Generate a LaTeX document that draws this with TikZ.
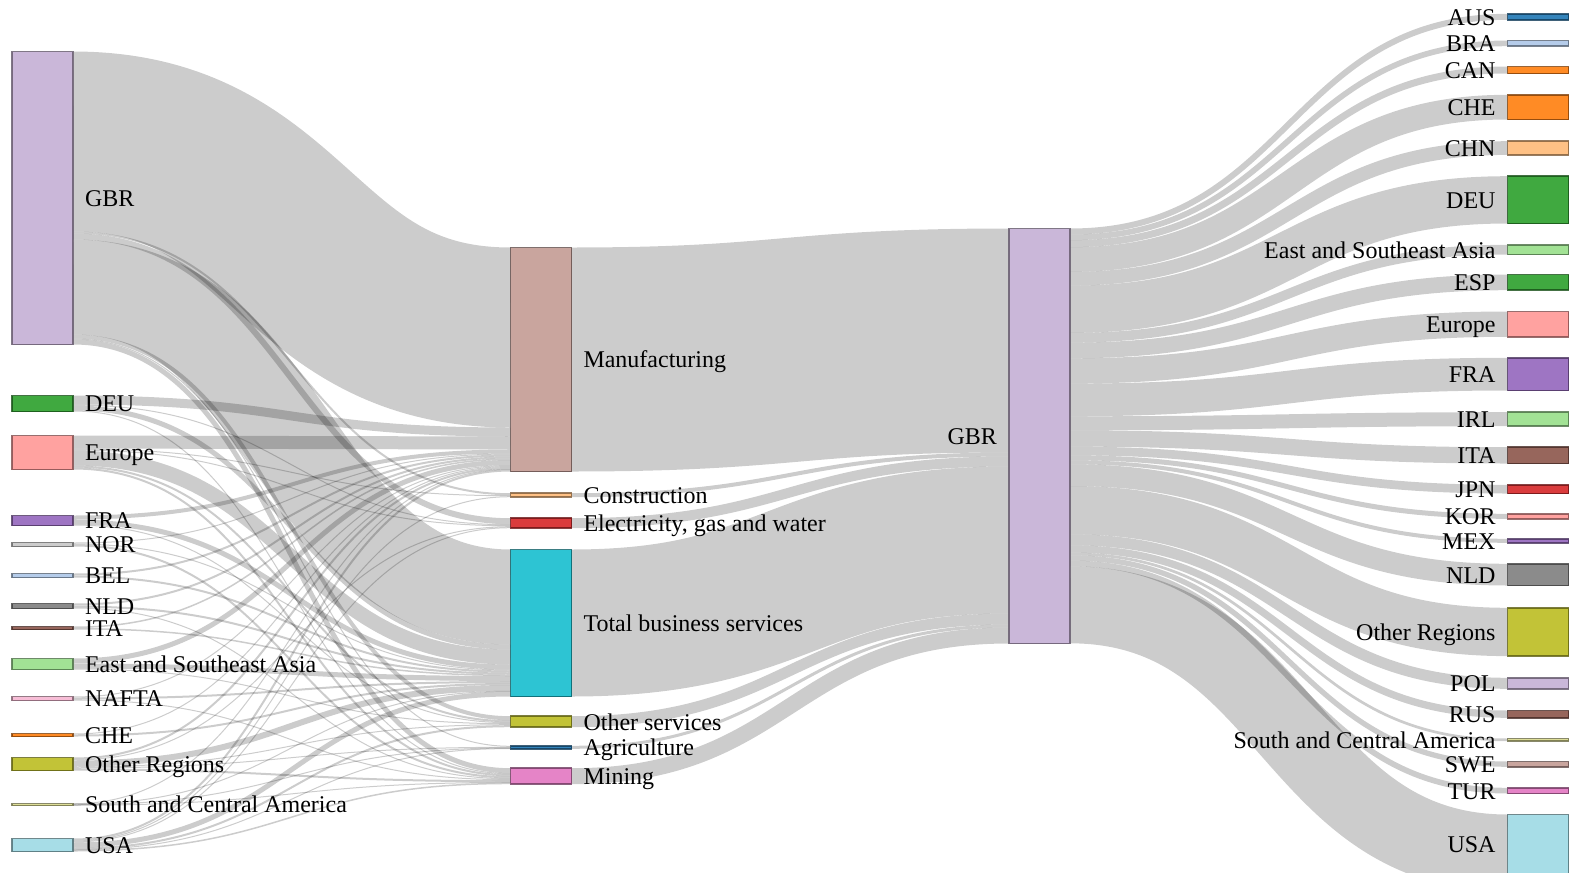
\documentclass[tikz,border=0pt]{standalone}
\usepackage{fontspec}
\setmainfont{Liberation Serif}
\usetikzlibrary{calc}

% category-20 palette
\definecolor{tabBlue}{HTML}{1F77B4}
\definecolor{tabBlueL}{HTML}{AEC7E8}
\definecolor{tabOrange}{HTML}{FF7F0E}
\definecolor{tabOrangeL}{HTML}{FFBB78}
\definecolor{tabGreen}{HTML}{2CA02C}
\definecolor{tabGreenL}{HTML}{98DF8A}
\definecolor{tabRed}{HTML}{D62728}
\definecolor{tabRedL}{HTML}{FF9896}
\definecolor{tabPurple}{HTML}{9467BD}
\definecolor{tabPurpleL}{HTML}{C5B0D5}
\definecolor{tabBrown}{HTML}{8C564B}
\definecolor{tabBrownL}{HTML}{C49C94}
\definecolor{tabPink}{HTML}{E377C2}
\definecolor{tabPinkL}{HTML}{F7B6D2}
\definecolor{tabGrey}{HTML}{7F7F7F}
\definecolor{tabGreyL}{HTML}{C7C7C7}
\definecolor{tabOlive}{HTML}{BCBD22}
\definecolor{tabOliveL}{HTML}{DBDB8D}
\definecolor{tabCyan}{HTML}{17BECF}
\definecolor{tabCyanL}{HTML}{9EDAE5}

\pgfdeclarelayer{back}
\pgfdeclarelayer{links}
\pgfsetlayers{back,links,main}

\tikzset{
  skbar/.style={draw=#1!49!black, draw opacity=0.8, fill=#1, fill opacity=0.9, line width=1.6,
    minimum width=61, minimum height=1, inner sep=0, outer sep=0, anchor=north west},
  flowpath/.style={draw=black, draw opacity=0.2},
  sklabel/.style={font=\fontsize{24}{28}\selectfont, inner sep=0, outer sep=0, text=black},
}

% a sankey bar: name, left x, top y, height, colour
\newcommand\sknode[5]{%
  \node[skbar=#5, minimum height=#4] (#1) at (#2,#3) {};
  \expandafter\xdef\csname so@#1\endcsname{0}%
  \expandafter\xdef\csname ti@#1\endcsname{0}%
}
% a flow band between two bars, stacked at both ends: source, target, width
\newcommand\skflow[3]{%
  \edef\fso{\csname so@#1\endcsname}%
  \edef\fti{\csname ti@#2\endcsname}%
  \pgfmathsetmacro\fw{max(1,#3)}%
  \pgfmathsetmacro\fa{\fso+#3/2}%
  \pgfmathsetmacro\fb{\fti+#3/2}%
  \begin{pgfonlayer}{links}
    \draw[flowpath, line width=\fw] ($(#1.north east)+(0,\fa)$)
      .. controls +(218.75,0) and +(-218.75,0) .. ($(#2.north west)+(0,\fb)$);
  \end{pgfonlayer}
  \pgfmathsetmacro\fso{\fso+#3}\expandafter\xdef\csname so@#1\endcsname{\fso}%
  \pgfmathsetmacro\fti{\fti+#3}\expandafter\xdef\csname ti@#2\endcsname{\fti}%
}
% labels right / left of a bar
\newcommand\labR[2]{\node[sklabel, anchor=base west] (#1-lbl) at ($(#1.east)+(12,8.4)$) {#2};}
\newcommand\labL[2]{\node[sklabel, anchor=base east] (#1-lbl) at ($(#1.west)+(-12,8.4)$) {#2};}

\begin{document}
\begin{tikzpicture}[x=1pt,y=-1pt]
\useasboundingbox (0,0) rectangle (1572,873);
\clip (0,0) rectangle (1572,873);
\begin{pgfonlayer}{back}
  \fill[white] (0,0) rectangle (1572,873);
\end{pgfonlayer}

% ---- source countries
\sknode{L-GBR}{12}{51.5}{293}{tabPurpleL}
\sknode{L-DEU}{12}{395.5}{16}{tabGreen}
\sknode{L-EUR}{12}{435.5}{34}{tabRedL}
\sknode{L-FRA}{12}{515.5}{10}{tabPurple}
\sknode{L-NOR}{12}{542.5}{4}{tabGreyL}
\sknode{L-BEL}{12}{573.5}{4}{tabBlueL}
\sknode{L-NLD}{12}{603.5}{5}{tabGrey}
\sknode{L-ITA}{12}{626.5}{3}{tabBrown}
\sknode{L-EAS}{12}{658.5}{11}{tabGreenL}
\sknode{L-NAF}{12}{696.5}{4}{tabPinkL}
\sknode{L-CHE}{12}{733.5}{3}{tabOrange}
\sknode{L-OTH}{12}{757.5}{13}{tabOlive}
\sknode{L-SCA}{12}{803.5}{2}{tabOliveL}
\sknode{L-USA}{12}{838.5}{13}{tabCyanL}

% ---- sectors
\sknode{M-MAN}{510.5}{247.5}{224}{tabBrownL}
\sknode{M-CON}{510.5}{493.2}{4}{tabOrangeL}
\sknode{M-ELE}{510.5}{518.2}{10}{tabRed}
\sknode{M-TBS}{510.5}{549.5}{147}{tabCyan}
\sknode{M-OTS}{510.5}{716.2}{11}{tabOlive}
\sknode{M-AGR}{510.5}{745.8}{3}{tabBlue}
\sknode{M-MIN}{510.5}{768.2}{16}{tabPink}

% ---- exporter
\sknode{G-GBR}{1009}{228.5}{415}{tabPurpleL}

% ---- destinations
\sknode{R-AUS}{1507.5}{13.8}{6}{tabBlue}
\sknode{R-BRA}{1507.5}{40.5}{5.7}{tabBlueL}
\sknode{R-CAN}{1507.5}{66.5}{7}{tabOrange}
\sknode{R-CHE}{1507.5}{94.8}{24.7}{tabOrange}
\sknode{R-CHN}{1507.5}{141.2}{13.7}{tabOrangeL}
\sknode{R-DEU}{1507.5}{176.2}{47.3}{tabGreen}
\sknode{R-EAS}{1507.5}{244.8}{9.7}{tabGreenL}
\sknode{R-ESP}{1507.5}{274.5}{15.7}{tabGreen}
\sknode{R-EUR}{1507.5}{311.5}{25.3}{tabRedL}
\sknode{R-FRA}{1507.5}{357.8}{32.7}{tabPurple}
\sknode{R-IRL}{1507.5}{412.2}{14}{tabGreenL}
\sknode{R-ITA}{1507.5}{447.2}{16.3}{tabBrown}
\sknode{R-JPN}{1507.5}{484.8}{8.7}{tabRed}
\sknode{R-KOR}{1507.5}{513.8}{5}{tabRedL}
\sknode{R-MEX}{1507.5}{538.8}{4}{tabPurple}
\sknode{R-NLD}{1507.5}{563.8}{21.7}{tabGrey}
\sknode{R-OTH}{1507.5}{607.8}{48.3}{tabOlive}
\sknode{R-POL}{1507.5}{677.8}{11}{tabPurpleL}
\sknode{R-RUS}{1507.5}{710.5}{7.3}{tabBrown}
\sknode{R-SCA}{1507.5}{738.5}{2.7}{tabOliveL}
\sknode{R-SWE}{1507.5}{761.5}{5.3}{tabBrownL}
\sknode{R-TUR}{1507.5}{787.8}{5.7}{tabPink}
\sknode{R-USA}{1507.5}{814.5}{77}{tabCyanL}

% ---- flows: source countries to sectors
\skflow{L-GBR}{M-MAN}{180}\skflow{L-GBR}{M-CON}{2}\skflow{L-GBR}{M-ELE}{6}
\skflow{L-GBR}{M-TBS}{95}\skflow{L-GBR}{M-OTS}{4}\skflow{L-GBR}{M-AGR}{1}\skflow{L-GBR}{M-MIN}{5}
\skflow{L-DEU}{M-MAN}{9}\skflow{L-DEU}{M-ELE}{1}\skflow{L-DEU}{M-TBS}{5}\skflow{L-DEU}{M-MIN}{1}
\skflow{L-EUR}{M-MAN}{13}\skflow{L-EUR}{M-CON}{1}\skflow{L-EUR}{M-ELE}{1}
\skflow{L-EUR}{M-TBS}{15}\skflow{L-EUR}{M-OTS}{2}\skflow{L-EUR}{M-MIN}{2}
\skflow{L-FRA}{M-MAN}{4}\skflow{L-FRA}{M-TBS}{5}\skflow{L-FRA}{M-OTS}{1}
\skflow{L-NOR}{M-MAN}{1}\skflow{L-NOR}{M-TBS}{1}\skflow{L-NOR}{M-MIN}{2}
\skflow{L-BEL}{M-MAN}{2}\skflow{L-BEL}{M-TBS}{2}
\skflow{L-NLD}{M-MAN}{2}\skflow{L-NLD}{M-TBS}{2}\skflow{L-NLD}{M-MIN}{1}
\skflow{L-ITA}{M-MAN}{1.5}\skflow{L-ITA}{M-TBS}{1.5}
\skflow{L-EAS}{M-MAN}{5}\skflow{L-EAS}{M-TBS}{5}\skflow{L-EAS}{M-OTS}{1}
\skflow{L-NAF}{M-MAN}{1}\skflow{L-NAF}{M-TBS}{2}\skflow{L-NAF}{M-MIN}{1}
\skflow{L-CHE}{M-MAN}{1}\skflow{L-CHE}{M-TBS}{2}
\skflow{L-OTH}{M-MAN}{2}\skflow{L-OTH}{M-ELE}{1}\skflow{L-OTH}{M-TBS}{6}
\skflow{L-OTH}{M-OTS}{1}\skflow{L-OTH}{M-AGR}{1}\skflow{L-OTH}{M-MIN}{2}
\skflow{L-SCA}{M-MAN}{0.5}\skflow{L-SCA}{M-TBS}{0.5}\skflow{L-SCA}{M-AGR}{0.5}\skflow{L-SCA}{M-MIN}{0.5}
\skflow{L-USA}{M-MAN}{2}\skflow{L-USA}{M-CON}{1}\skflow{L-USA}{M-ELE}{1}\skflow{L-USA}{M-TBS}{5}
\skflow{L-USA}{M-OTS}{2}\skflow{L-USA}{M-AGR}{0.5}\skflow{L-USA}{M-MIN}{1.5}

% ---- flows: sectors to exporter
\skflow{M-MAN}{G-GBR}{224}
\skflow{M-CON}{G-GBR}{4}
\skflow{M-ELE}{G-GBR}{10}
\skflow{M-TBS}{G-GBR}{147}
\skflow{M-OTS}{G-GBR}{11}
\skflow{M-AGR}{G-GBR}{3}
\skflow{M-MIN}{G-GBR}{16}

% ---- flows: exporter to destinations
\skflow{G-GBR}{R-AUS}{6}
\skflow{G-GBR}{R-BRA}{5.7}
\skflow{G-GBR}{R-CAN}{7}
\skflow{G-GBR}{R-CHE}{24.7}
\skflow{G-GBR}{R-CHN}{13.7}
\skflow{G-GBR}{R-DEU}{47.3}
\skflow{G-GBR}{R-EAS}{9.7}
\skflow{G-GBR}{R-ESP}{15.7}
\skflow{G-GBR}{R-EUR}{25.3}
\skflow{G-GBR}{R-FRA}{32.7}
\skflow{G-GBR}{R-IRL}{14}
\skflow{G-GBR}{R-ITA}{16.3}
\skflow{G-GBR}{R-JPN}{8.7}
\skflow{G-GBR}{R-KOR}{5}
\skflow{G-GBR}{R-MEX}{4}
\skflow{G-GBR}{R-NLD}{21.7}
\skflow{G-GBR}{R-OTH}{48.3}
\skflow{G-GBR}{R-POL}{11}
\skflow{G-GBR}{R-RUS}{7.3}
\skflow{G-GBR}{R-SCA}{2.7}
\skflow{G-GBR}{R-SWE}{5.3}
\skflow{G-GBR}{R-TUR}{5.7}
\skflow{G-GBR}{R-USA}{77}

% ---- labels
\labR{L-GBR}{GBR}
\labR{L-DEU}{DEU}
\labR{L-EUR}{Europe}
\labR{L-FRA}{FRA}
\labR{L-NOR}{NOR}
\labR{L-BEL}{BEL}
\labR{L-NLD}{NLD}
\labR{L-ITA}{ITA}
\labR{L-EAS}{East and Southeast Asia}
\labR{L-NAF}{NAFTA}
\labR{L-CHE}{CHE}
\labR{L-OTH}{Other Regions}
\labR{L-SCA}{South and Central America}
\labR{L-USA}{USA}

\labR{M-MAN}{Manufacturing}
\labR{M-CON}{Construction}
\labR{M-ELE}{Electricity, gas and water}
\labR{M-TBS}{Total business services}
\labR{M-OTS}{Other services}
\labR{M-AGR}{Agriculture}
\labR{M-MIN}{Mining}

\labL{G-GBR}{GBR}

\labL{R-AUS}{AUS}
\labL{R-BRA}{BRA}
\labL{R-CAN}{CAN}
\labL{R-CHE}{CHE}
\labL{R-CHN}{CHN}
\labL{R-DEU}{DEU}
\labL{R-EAS}{East and Southeast Asia}
\labL{R-ESP}{ESP}
\labL{R-EUR}{Europe}
\labL{R-FRA}{FRA}
\labL{R-IRL}{IRL}
\labL{R-ITA}{ITA}
\labL{R-JPN}{JPN}
\labL{R-KOR}{KOR}
\labL{R-MEX}{MEX}
\labL{R-NLD}{NLD}
\labL{R-OTH}{Other Regions}
\labL{R-POL}{POL}
\labL{R-RUS}{RUS}
\labL{R-SCA}{South and Central America}
\labL{R-SWE}{SWE}
\labL{R-TUR}{TUR}
\node[sklabel, anchor=base east] (R-USA-lbl) at ($(R-USA.north west)+(-12,38.4)$) {USA};
\end{tikzpicture}
\end{document}
